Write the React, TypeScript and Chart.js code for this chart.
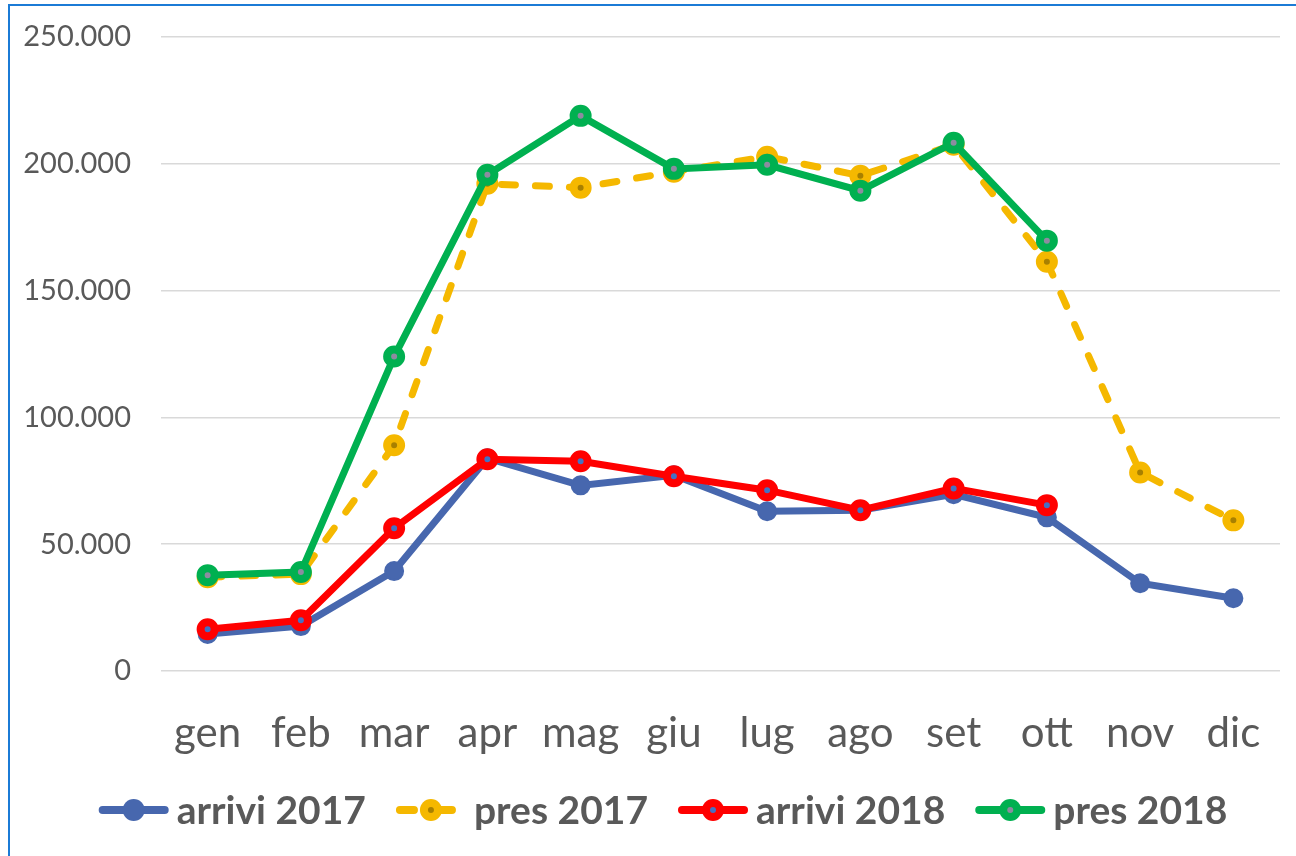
import React, { useEffect, useRef } from "react";
import { Chart, registerables } from "chart.js";

Chart.register(...registerables);

const months = ["gen", "feb", "mar", "apr", "mag", "giu", "lug", "ago", "set", "ott", "nov", "dic"];
const arrivi2017 = [14600, 17700, 39400, 83900, 73200, 77200, 63000, 63400, 69700, 60600, 34600, 28700];
const pres2017 = [37000, 38200, 89000, 192100, 190600, 196900, 202800, 195300, 207500, 161400, 78300, 59400];
const arrivi2018 = [16500, 20000, 56300, 83500, 82700, 76800, 71300, 63400, 72000, 65400, null, null];
const pres2018 = [37800, 39000, 124000, 195700, 218900, 198000, 199600, 189400, 208300, 169700, null, null];
const seriesNames = ["arrivi 2017", "pres 2017", "arrivi 2018", "pres 2018"];
const yMin = 0;
const yMax = 250000;
const yStep = 50000;

const BLUE = "#4767ae";
const YELLOW = "#f5b800";
const RED = "#ff0000";
const GREEN = "#00b050";
const TEXT = "#595959";
const FONT = "Lato, 'Open Sans', sans-serif";

function fmt(v: number): string {
  const s = Math.round(v).toString();
  return s.replace(/\B(?=(\d{3})+(?!\d))/g, ".");
}

const legendPlugin = {
  id: "customLegend",
  afterDraw(chart: any) {
    const ctx = chart.ctx as CanvasRenderingContext2D;
    const ds = chart.data.datasets;
    ctx.save();
    ctx.font = `bold 39px ${FONT}`;
    const lineLen = 70;
    const gapText = 8;
    const gapItem = 30;
    const widths = ds.map((d: any) => lineLen + gapText + ctx.measureText(d.label).width);
    const total = widths.reduce((a: number, b: number) => a + b, 0) + gapItem * (ds.length - 1);
    let x = 663 - total / 2;
    const y = 810;
    ds.forEach((d: any, i: number) => {
      const color = d.borderColor;
      ctx.lineCap = "round";
      ctx.strokeStyle = color;
      ctx.lineWidth = 8;
      if (d.borderDash && d.borderDash.length) {
        ctx.setLineDash([14, 24]);
      } else {
        ctx.setLineDash([]);
      }
      ctx.beginPath();
      ctx.moveTo(x + 4, y);
      ctx.lineTo(x + lineLen - 4, y);
      ctx.stroke();
      ctx.setLineDash([]);
      const cx = x + lineLen / 2;
      ctx.beginPath();
      ctx.arc(cx, y, 11, 0, Math.PI * 2);
      ctx.fillStyle = color;
      ctx.fill();
      if (d.pointBackgroundColor && d.pointBackgroundColor !== color) {
        ctx.beginPath();
        ctx.arc(cx, y, 3, 0, Math.PI * 2);
        ctx.fillStyle = d.pointBackgroundColor;
        ctx.fill();
      }
      ctx.fillStyle = TEXT;
      ctx.textBaseline = "middle";
      ctx.textAlign = "left";
      ctx.fillText(d.label, x + lineLen + gapText, y + 1);
      x += widths[i] + gapItem;
    });
    ctx.restore();
  },
};

export default function App() {
  const ref = useRef<HTMLCanvasElement | null>(null);
  useEffect(() => {
    if (!ref.current) return;
    const chart = new Chart(ref.current, {
      type: "line",
      data: {
        labels: months,
        datasets: [
          {
            label: seriesNames[0],
            data: arrivi2017,
            borderColor: BLUE,
            backgroundColor: BLUE,
            pointBackgroundColor: BLUE,
            pointBorderColor: BLUE,
            pointRadius: 9,
            pointBorderWidth: 2,
            borderWidth: 7,
            order: 4,
          },
          {
            label: seriesNames[1],
            data: pres2017,
            borderColor: YELLOW,
            backgroundColor: YELLOW,
            pointBackgroundColor: "#a88000",
            pointBorderColor: YELLOW,
            pointRadius: 7,
            pointBorderWidth: 8,
            borderWidth: 7,
            borderDash: [14, 20],
            borderCapStyle: "round",
            order: 3,
          },
          {
            label: seriesNames[2],
            data: arrivi2018,
            borderColor: RED,
            backgroundColor: RED,
            pointBackgroundColor: "#4472c4",
            pointBorderColor: RED,
            pointRadius: 7,
            pointBorderWidth: 8,
            borderWidth: 7,
            order: 2,
          },
          {
            label: seriesNames[3],
            data: pres2018,
            borderColor: GREEN,
            backgroundColor: GREEN,
            pointBackgroundColor: "#8c8ca0",
            pointBorderColor: GREEN,
            pointRadius: 7,
            pointBorderWidth: 8,
            borderWidth: 7,
            order: 1,
          },
        ],
      },
      options: {
        responsive: false,
        animation: false,
        spanGaps: false,
        elements: { line: { tension: 0 } },
        layout: { padding: { left: 0, right: 16, top: 37, bottom: 100 } },
        plugins: {
          legend: { display: false },
          tooltip: { enabled: false },
        },
        scales: {
          x: {
            offset: true,
            grid: { display: false, drawTicks: false },
            border: { display: false },
            ticks: {
              color: TEXT,
              font: { family: FONT, size: 42 },
              padding: 37,
              maxRotation: 0,
              autoSkip: false,
            },
            afterFit: (s: any) => {
              s.height = 85;
              s.paddingLeft = 0;
              s.paddingRight = 0;
              s.paddingTop = 0;
              s.paddingBottom = 0;
            },
          },
          y: {
            min: yMin,
            max: yMax,
            grid: { color: "#d9d9d9", lineWidth: 1.5, drawTicks: false },
            border: { display: false },
            ticks: {
              stepSize: yStep,
              color: TEXT,
              font: { family: FONT, size: 29 },
              padding: 30,
              callback: (v: any) => fmt(Number(v)),
            },
            afterFit: (s: any) => {
              s.width = 161;
              s.paddingTop = 0;
              s.paddingBottom = 0;
            },
          },
        },
      },
      plugins: [legendPlugin],
    });
    return () => chart.destroy();
  }, []);
  return (
    <div style={{ position: "fixed", left: 0, top: 0, width: 1296, height: 856, background: "#fff", overflow: "hidden" }}>
      <canvas ref={ref} width={1296} height={856} style={{ display: "block" }} />
      <div
        style={{
          position: "absolute",
          left: 8,
          top: 4,
          width: 1400,
          height: 1000,
          borderLeft: "2px solid #1b7bd6",
          borderTop: "2px solid #1b7bd6",
          pointerEvents: "none",
        }}
      />
    </div>
  );
}
